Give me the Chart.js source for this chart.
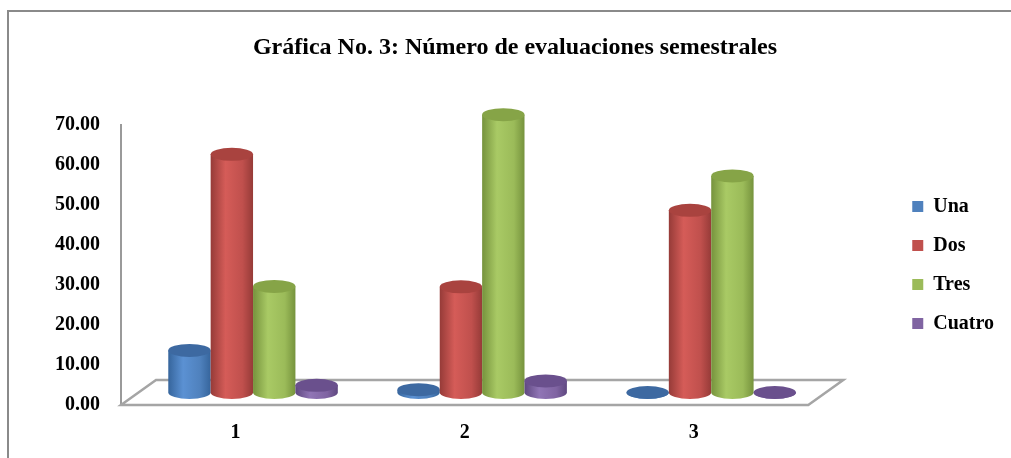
<!DOCTYPE html>
<html>
<head>
<meta charset="utf-8">
<script src="https://cdn.jsdelivr.net/npm/chart.js@4/dist/chart.umd.min.js"></script>
<style>
  body{ margin:0; background:#fff; }
  canvas{ display:block; }
</style>
</head>
<body>
<canvas id="grafica" width="1011" height="458"></canvas>
<script>
// ====== datos ======
const categorias = ['1', '2', '3'];
const una    = [10.5, 0.7, 0];
const dos    = [59.5, 26.4, 45.5];
const tres   = [26.5, 69.4, 54.1];
const cuatro = [1.8, 2.9, 0];
const ticksY = [0, 10, 20, 30, 40, 50, 60, 70];

// colores tipo Office: base, claro, oscuro, tapa
const colores = [
  { base:'#4f81bd', claro:'#5b91d3', oscuro:'#36659c', tapa:'#3d69a1' },
  { base:'#c0504d', claro:'#d55c58', oscuro:'#963b38', tapa:'#a9433f' },
  { base:'#9bbb59', claro:'#a9ca65', oscuro:'#76933d', tapa:'#86a447' },
  { base:'#8064a2', claro:'#9075b5', oscuro:'#5f4880', tapa:'#6a508d' }
];

// desplazamiento de profundidad del piso (efecto 3D)
const PX = 35, PY = 25;
const FUENTE = '"Liberation Serif", "Times New Roman", serif';

function cilindro(c, cx, top, base, w, col){
  const rx = w / 2, ry = 6.5;
  const g = c.createLinearGradient(cx - rx, 0, cx + rx, 0);
  g.addColorStop(0, col.oscuro);
  g.addColorStop(0.35, col.claro);
  g.addColorStop(0.75, col.base);
  g.addColorStop(1, col.oscuro);
  c.beginPath();
  c.moveTo(cx - rx, top);
  c.lineTo(cx - rx, base);
  c.ellipse(cx, base, rx, ry, 0, Math.PI, 0, true);
  c.lineTo(cx + rx, top);
  c.closePath();
  c.fillStyle = g;
  c.fill();
  c.beginPath();
  c.ellipse(cx, top, rx, ry, 0, 0, Math.PI * 2);
  c.fillStyle = col.tapa;
  c.fill();
}

const cilindros = {
  id: 'cilindros',
  beforeDraw(chart){
    const c = chart.ctx;
    c.save();
    c.strokeStyle = '#8a8a8a';
    c.lineWidth = 2;
    c.beginPath();
    c.moveTo(8, chart.height);
    c.lineTo(8, 11);
    c.lineTo(chart.width, 11);
    c.stroke();
    c.restore();
  },
  beforeDatasetDraw(){ return false; },
  afterDatasetsDraw(chart){
    const c = chart.ctx, a = chart.chartArea;
    c.save();
    // piso
    c.beginPath();
    c.moveTo(a.left, a.bottom);
    c.lineTo(a.right, a.bottom);
    c.lineTo(a.right + PX, a.bottom - PY);
    c.lineTo(a.left + PX, a.bottom - PY);
    c.closePath();
    c.fillStyle = '#fff';
    c.fill();
    c.strokeStyle = '#a5a5a5';
    c.lineWidth = 2.5;
    c.stroke();
    // barras
    const n = chart.data.datasets.length;
    for(let j = 0; j < categorias.length; j++){
      for(let i = 0; i < n; i++){
        const bar = chart.getDatasetMeta(i).data[j];
        if(!bar) continue;
        cilindro(c, bar.x + PX / 2, bar.y - PY / 2, bar.base - PY / 2, bar.width, colores[i]);
      }
    }
    c.restore();
  }
};

Chart.defaults.color = '#000';
Chart.defaults.font.family = FUENTE;

new Chart(document.getElementById('grafica'), {
  type: 'bar',
  data: {
    labels: categorias,
    datasets: [
      { label:'Una',    data: una,    backgroundColor: colores[0].base },
      { label:'Dos',    data: dos,    backgroundColor: colores[1].base },
      { label:'Tres',   data: tres,   backgroundColor: colores[2].base },
      { label:'Cuatro', data: cuatro, backgroundColor: colores[3].base }
    ]
  },
  plugins: [cilindros],
  options: {
    responsive: false,
    animation: false,
    categoryPercentage: 0.74,
    barPercentage: 1,
    layout: { padding: { left: 26, right: 7, top: 0, bottom: 13 } },
    plugins: {
      tooltip: { enabled: false },
      title: {
        display: true,
        text: 'Gráfica No. 3: Número de evaluaciones semestrales',
        font: { size: 24, weight: 'bold', family: FUENTE },
        color: '#000',
        padding: { top: 33, bottom: 63 }
      },
      legend: {
        position: 'right',
        fullSize: false,
        labels: {
          boxWidth: 11,
          boxHeight: 11,
          padding: 19,
          font: { size: 20, weight: 'bold', family: FUENTE }
        }
      }
    },
    scales: {
      x: {
        grid: { display: false, drawTicks: false },
        border: { display: false },
        ticks: { padding: 16, font: { size: 20, weight: 'bold' } },
        afterFit(s){ s.height = 40; }
      },
      y: {
        min: 0,
        max: 70,
        grid: { display: false, drawTicks: false },
        border: { display: true, color: '#9a9a9a', width: 2 },
        afterBuildTicks(s){ s.ticks = ticksY.map(v => ({ value: v })); },
        ticks: {
          padding: 21,
          font: { size: 20, weight: 'bold' },
          callback: v => Number(v).toFixed(2)
        },
        afterFit(s){ s.width = 95; }
      },
      y2: {
        position: 'right',
        grid: { display: false, drawTicks: false },
        border: { display: false },
        ticks: { display: false },
        afterFit(s){ s.width = 85; }
      }
    }
  }
});
</script>
</body>
</html>
